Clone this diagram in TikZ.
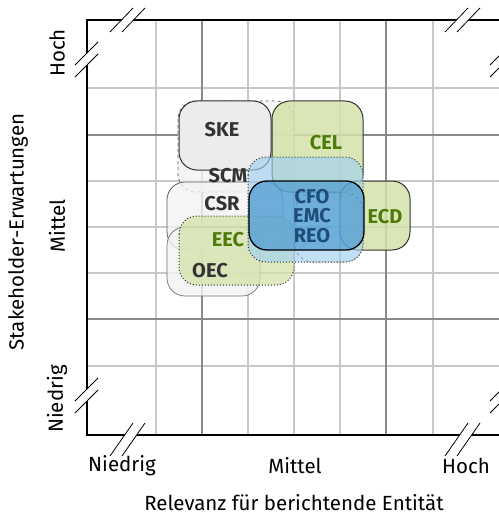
\documentclass[tikz,border=0pt]{standalone}
\usepackage{fontspec}
\setmainfont{Fira Sans}
\definecolor{gridlight}{HTML}{C8C8C8}
\definecolor{griddark}{HTML}{8A8A8A}
\definecolor{graytxt}{HTML}{333333}
\definecolor{greentxt}{HTML}{4E7A0C}
\definecolor{bluetxt}{HTML}{1E4D78}
\definecolor{greenfill}{HTML}{D3E2A8}
\definecolor{grayfillA}{HTML}{ECECEC}
\definecolor{grayfillB}{HTML}{F3F3F3}
\definecolor{bluelight}{HTML}{9FD0F0}
\definecolor{bluedark}{HTML}{3A8FCC}
\tikzset{
  glight/.style={draw=gridlight, line width=1.3pt},
  gdark/.style={draw=griddark, line width=1.3pt},
  axisline/.style={draw=black, line width=1.4pt},
  slash/.style={draw=black, line width=0.8pt},
  blob/.style={rounded corners=18pt},
  lbl/.style={font=\bfseries\fontsize{20}{22}\selectfont, inner sep=0pt, anchor=center},
  tick/.style={font=\fontsize{20.5}{23}\selectfont, inner sep=0pt, anchor=center},
}
\begin{document}
\begin{tikzpicture}[x=1pt,y=-1pt]
\useasboundingbox (0,0) rectangle (498,516);
% grid
\foreach \x in {156,248,294,340,433} \draw[glight] (\x,20) -- (\x,435);
\foreach \y in {88,181,227,273,366} \draw[glight] (87,\y) -- (502,\y);
\foreach \x in {202,386} \draw[gdark] (\x,20) -- (\x,435);
\foreach \y in {135,319} \draw[gdark] (87,\y) -- (502,\y);
% axes
\draw[axisline] (87,20) -- (502,20) -- (502,435) -- (87,435) -- cycle;
% break marks: white gaps then slashes
\foreach \ax/\ay/\bx/\by/\dx in {110/32/133/8/12, 445/32/468/8/12, 110/456/133/423/12, 445/456/468/423/12}{
  \fill[white] (\ax,\ay) -- (\bx,\by) -- (\bx+\dx,\by) -- (\ax+\dx,\ay) -- cycle;
  \draw[slash] (\ax,\ay) -- (\bx,\by);
  \draw[slash] (\ax+\dx,\ay) -- (\bx+\dx,\by);
}
\foreach \ax/\ay/\bx/\by/\dy in {75/65/98/42/12, 75/401/98/378/12, 490/65/513/42/12, 490/401/513/378/12}{
  \fill[white] (\ax,\ay) -- (\bx,\by) -- (\bx,\by+\dy) -- (\ax,\ay+\dy) -- cycle;
  \draw[slash] (\ax,\ay) -- (\bx,\by);
  \draw[slash] (\ax,\ay+\dy) -- (\bx,\by+\dy);
}
% blobs (back to front)
\path[blob, fill=grayfillB, fill opacity=0.85, draw=graytxt!75, dashed, line width=0.8pt] (178,101) rectangle (294,192);
\path[blob, fill=grayfillA, fill opacity=0.95, draw=graytxt, line width=1pt] (179,101) rectangle (271,170);
\path[blob, fill=grayfillB, fill opacity=0.8, draw=graytxt!80, line width=0.8pt] (167,182) rectangle (283,250);
\path[blob, fill=grayfillB, fill opacity=0.8, draw=graytxt!70, line width=0.7pt] (167,227) rectangle (260,296);
\path[blob, fill=greenfill, fill opacity=0.75, draw=graytxt, dotted, line width=1pt] (179,216) rectangle (294,285);
\path[blob, fill=greenfill, fill opacity=0.85, draw=graytxt, line width=1pt] (272,101) rectangle (363,192);
\path[blob, fill=greenfill, fill opacity=0.85, draw=graytxt, line width=1pt] (340,181) rectangle (410,250);
\path[blob, fill=bluelight, fill opacity=0.65, draw=graytxt, dotted, line width=1pt] (248,157) rectangle (363,262);
\path[blob, draw=graytxt!60, dashed, line width=0.6pt] (295,193) rectangle (363,262);
\path[blob, fill=bluedark, fill opacity=0.6, draw=black, line width=1.3pt] (249,181) rectangle (364,250);
% labels
\node[lbl, text=graytxt] (ske) at (222,130) {SKE};
\node[lbl, text=graytxt] (scm) at (228,176) {SCM};
\node[lbl, text=graytxt] (csr) at (222,204) {CSR};
\node[lbl, text=greentxt] (eec) at (228,240) {EEC};
\node[lbl, text=graytxt] (oec) at (210,271) {OEC};
\node[lbl, text=greentxt] (cel) at (326,143) {CEL};
\node[lbl, text=greentxt] (ecd) at (385,217) {ECD};
\node[lbl, text=bluetxt] (cfo) at (312,197) {CFO};
\node[lbl, text=bluetxt] (emc) at (312,216) {EMC};
\node[lbl, text=bluetxt] (reo) at (312,236) {REO};
% axis labels
\node[tick] (xl) at (122,466) {Niedrig};
\node[tick] (xm) at (295,466) {Mittel};
\node[tick] (xh) at (466,466) {Hoch};
\node[tick] (xt) at (294,503) {Relevanz für berichtende Entität};
\node[tick, rotate=90] (yh) at (57,53) {Hoch};
\node[tick, rotate=90] (ym) at (57,226) {Mittel};
\node[tick, rotate=90] (yl) at (57,399) {Niedrig};
\node[tick, rotate=90] (yt) at (18,232) {Stakeholder-Erwartungen};
\end{tikzpicture}
\end{document}
